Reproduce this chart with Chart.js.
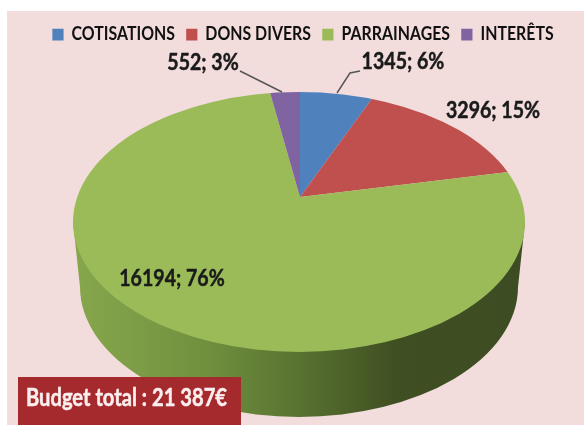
<!DOCTYPE html>
<html lang="fr">
<head>
<meta charset="utf-8">
<title>Budget</title>
<script src="https://cdn.jsdelivr.net/npm/chart.js@4"></script>
<style>
  html, body { margin: 0; padding: 0; background: #fff; }
  canvas { display: block; }
</style>
</head>
<body>
<canvas id="budgetChart" width="584" height="425"></canvas>
<script>
const categories = ['COTISATIONS', 'DONS DIVERS', 'PARRAINAGES', 'INTERÊTS'];
const amounts = [1345, 3296, 16194, 552];
const percents = [6, 15, 76, 3];
const sliceColors = ['#4f81bd', '#c0504d', '#9bbb59', '#8064a2'];
const budgetText = 'Budget total : 21 387€';

const FONT = 'Lato, "Liberation Sans", sans-serif';

// the picture is in perspective: the apex sits above the centre of the ellipse
const apex = { x: 300, y: 197 };
const top_ = { cx: 299, cy: 222, rx: 226, ry: 130 };
const bottom_ = { cx: 299, cy: 287, rx: 219, ry: 130 };

function sidePath(ctx) {
    ctx.beginPath();
    ctx.moveTo(top_.cx - top_.rx, top_.cy);
    ctx.lineTo(bottom_.cx - bottom_.rx, bottom_.cy);
    ctx.ellipse(bottom_.cx, bottom_.cy, bottom_.rx, bottom_.ry, 0, Math.PI, 0, true);
    ctx.lineTo(top_.cx + top_.rx, top_.cy);
    ctx.closePath();
}

// condensed and a bit heavier, the installed fonts have no narrow cut
function squeezedText(ctx, text, x, y, squeeze) {
    ctx.save();
    ctx.translate(x, y);
    ctx.scale(squeeze, 1);
    ctx.strokeStyle = ctx.fillStyle;
    ctx.lineWidth = 0.5;
    ctx.strokeText(text, 0, 0);
    ctx.fillText(text, 0, 0);
    ctx.restore();
}

const pie3d = {
    id: 'pie3d',
    beforeDraw(chart) {
        const ctx = chart.ctx;
        ctx.fillStyle = '#f2dcdc';
        ctx.fillRect(7, 11, 577, 414);
        // squeeze the legend, undone in beforeDatasetsDraw
        ctx.save();
        ctx.translate(303, 33);
        ctx.scale(0.935, 1.06);
        ctx.translate(-292, -33);
    },
    beforeDatasetsDraw(chart) {
        chart.ctx.restore();
    },
    beforeDatasetDraw(chart, args) {
        const ctx = chart.ctx;
        const arcs = args.meta.data;
        const outer = arcs[0].outerRadius;

        ctx.save();
        const grad = ctx.createLinearGradient(bottom_.cx - bottom_.rx, 0, bottom_.cx + bottom_.rx, 0);
        grad.addColorStop(0, '#86a64c');
        grad.addColorStop(0.3, '#6f8f3e');
        grad.addColorStop(0.5, '#587230');
        grad.addColorStop(0.72, '#404f22');
        grad.addColorStop(1, '#3d4c22');
        ctx.fillStyle = grad;
        sidePath(ctx);
        ctx.fill();
        ctx.restore();

        // slices squashed round the apex, the ellipse cuts them to shape
        const wide = top_.rx * 1.5;
        ctx.save();
        ctx.beginPath();
        ctx.ellipse(top_.cx, top_.cy, top_.rx, top_.ry, 0, 0, Math.PI * 2);
        ctx.clip();
        ctx.translate(apex.x, apex.y);
        ctx.scale(wide / outer, wide * 0.57 / outer);
        ctx.translate(-arcs[0].x, -arcs[0].y);
        arcs.forEach(arc => arc.draw(ctx));
        ctx.restore();
        return false;
    },
    afterDatasetsDraw(chart) {
        const ctx = chart.ctx;
        ctx.save();

        // leader lines
        ctx.strokeStyle = '#555';
        ctx.lineWidth = 1.4;
        ctx.beginPath();
        ctx.moveTo(240, 71); ctx.lineTo(282, 92);
        ctx.moveTo(360, 71); ctx.lineTo(350, 73); ctx.lineTo(337, 93);
        ctx.stroke();

        // data labels
        const spots = [[403, 62], [493, 111], [172, 279], [203, 63]];
        ctx.fillStyle = '#1a1a1a';
        ctx.font = 'bold 23px ' + FONT;
        ctx.textAlign = 'center';
        ctx.textBaseline = 'middle';
        amounts.forEach((v, i) => {
            squeezedText(ctx, v + '; ' + percents[i] + '%', spots[i][0], spots[i][1], 0.85);
        });

        // total box
        ctx.fillStyle = '#a52a2d';
        ctx.fillRect(18, 377, 223, 48);
        ctx.fillStyle = '#fbeeee';
        ctx.font = 'bold 24px ' + FONT;
        ctx.textAlign = 'left';
        squeezedText(ctx, budgetText, 26, 398, 0.84);
        ctx.restore();
    }
};

new Chart(document.getElementById('budgetChart').getContext('2d'), {
    type: 'pie',
    data: {
        labels: categories,
        datasets: [{
            data: amounts,
            backgroundColor: sliceColors,
            borderWidth: 0
        }]
    },
    options: {
        responsive: false,
        animation: false,
        layout: { padding: { top: 14 } },
        plugins: {
            tooltip: { enabled: false },
            legend: {
                position: 'top',
                labels: {
                    boxWidth: 12,
                    boxHeight: 11,
                    padding: 12,
                    color: '#111',
                    font: { family: FONT, size: 17, weight: 'bold' }
                }
            }
        }
    },
    plugins: [pie3d]
});
</script>
</body>
</html>
